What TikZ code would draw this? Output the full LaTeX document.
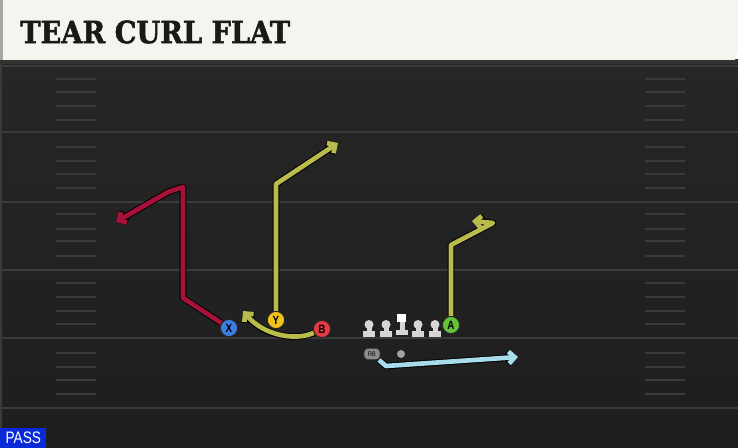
\documentclass[tikz,border=0pt]{standalone}
\usepackage{fontspec}
\usetikzlibrary{calc,arrows.meta,positioning}

\newfontfamily\titleFont[FakeStretch = 0.89, FakeBold = 1.6]{DejaVu Serif}
\newfontfamily\labelFont[FakeStretch = 0.82]{Liberation Sans}

\definecolor{bannerCol}{HTML}{F6F4EE}
\definecolor{fieldTop}{HTML}{262626}
\definecolor{fieldBot}{HTML}{1E1E1E}
\definecolor{lineCol}{HTML}{3A3A3A}
\definecolor{redRoute}{HTML}{A8123A}
\definecolor{oliveRoute}{HTML}{B9BC4C}
\definecolor{blueRoute}{HTML}{A6DCEB}
\definecolor{xBlue}{HTML}{3C7FE0}
\definecolor{yYellow}{HTML}{F2C21B}
\definecolor{bRed}{HTML}{E23B45}
\definecolor{aGreen}{HTML}{66C23A}
\definecolor{olGrey}{HTML}{D6D6D6}
\definecolor{rbGrey}{HTML}{8C8C8C}
\definecolor{passBlue}{HTML}{0A2AD8}

\begin{document}
\begin{tikzpicture}[x = 0.75pt, y = -0.75pt,
        player/.style = {circle, draw = black!85, line width = 0.8pt, inner sep = 0pt, minimum size = 13pt,
            font = \labelFont\bfseries\fontsize{9}{9}\selectfont},
        route/.style = {line width = 3.5pt, line join = round,
            -{Straight Barb[length = 4.5pt, width = 9pt]},
            preaction = {draw = black, line width = 4.9pt, line join = round, -{Straight Barb[length = 4.5pt, width = 9pt]}}},
        yardLine/.style = {lineCol, line width = 1.5pt},
        hashMark/.style = {lineCol, line width = 1.3pt}]

        \useasboundingbox (0, 0) rectangle (738, 448);

        % draw field
        \shade[top color = fieldTop, bottom color = fieldBot] (0, 60) rectangle (738, 448);
        \fill[black!80] (0, 60) rectangle (738, 64);
        \draw[lineCol, line width = 1pt] (1, 64) to (1, 448);

        \foreach \y in {66, 132, 202, 270, 338, 408} {
            \draw[yardLine] (0, \y) to (738, \y);
        }

        \foreach \y in {79, 92, 106, 120, 147, 161, 174, 188, 214, 229, 241, 256, 283, 297, 311, 324, 353, 367, 380, 394} {
            \draw[hashMark] (56, \y) to (96, \y);
            \draw[hashMark] (645, \y) to (685, \y);
        }

        % draw title banner
        \fill[bannerCol] (0, 0) -- (738, 0) -- (738, 50) -- (735, 60) -- (0, 60) -- cycle;
        \fill[gray!70] (0, 0) rectangle (3, 60);
        \node[anchor = west, inner sep = 0pt, text = black!90, font = \titleFont\bfseries\fontsize{23}{23}\selectfont] (title) at (20, 32) {TEAR CURL FLAT};

        % draw offensive line
        \foreach \x in {369, 386, 418, 435} {
            \fill[olGrey] (\x - 6, 331) rectangle (\x + 6, 337);
            \fill[olGrey] (\x - 2.5, 326) rectangle (\x + 2.5, 332);
            \fill[olGrey] (\x, 324.5) circle (4.5);
        }
        \fill[olGrey] (396, 330) rectangle (408, 335);
        \fill[olGrey] (399.5, 321) rectangle (404.5, 331);
        \fill[white] (397, 314) rectangle (406, 322);

        % players
        \node[player, fill = xBlue]  (X) at (229, 328) {X};
        \node[player, fill = yYellow] (Y) at (276, 320) {Y};
        \node[player, fill = bRed]   (B) at (322, 329) {B};
        \node[player, fill = aGreen] (A) at (451, 325) {A};
        \node[fill = rbGrey, draw = black!80, line width = 0.5pt, rounded corners = 3pt, inner sep = 0pt,
            minimum width = 12pt, minimum height = 8.5pt, font = \labelFont\fontsize{5}{5}\selectfont] (RB) at (372, 354) {RB};
        \node[circle, fill = rbGrey!80, inner sep = 0pt, minimum size = 6pt] (QB) at (401, 354) {};

        % route points
        \coordinate (X1) at (183, 298);
        \coordinate (X2) at (183, 187);
        \coordinate (X3) at (168, 192);
        \coordinate (X4) at (116, 222);

        \coordinate (Y1) at (276, 184);
        \coordinate (Y2) at (338, 143);

        \coordinate (B1) at (243, 311);

        \coordinate (A1) at (451, 245);
        \coordinate (A2) at (493, 223);
        \coordinate (A3) at (472, 221);

        \coordinate (R1) at (386, 366);
        \coordinate (R2) at (518, 357);

        % draw routes
        \draw[route, redRoute] (X) to (X1) to (X2) to (X3) to (X4);
        \draw[route, oliveRoute] (Y) to (Y1) to (Y2);
        \draw[route, oliveRoute] (B) .. controls (296, 341) and (264, 336) .. (B1);
        \draw[route, oliveRoute] (A) to (A1) to (A2) to (A3);
        \draw[route, blueRoute] (RB) to (R1) to (R2);

        % play type
        \node[fill = passBlue, text = white, anchor = south west, inner sep = 0pt, minimum width = 34.5pt, minimum height = 15pt,
            font = \labelFont\fontsize{12.5}{12.5}\selectfont] (playType) at (0, 448) {PASS};

\end{tikzpicture}
\end{document}
